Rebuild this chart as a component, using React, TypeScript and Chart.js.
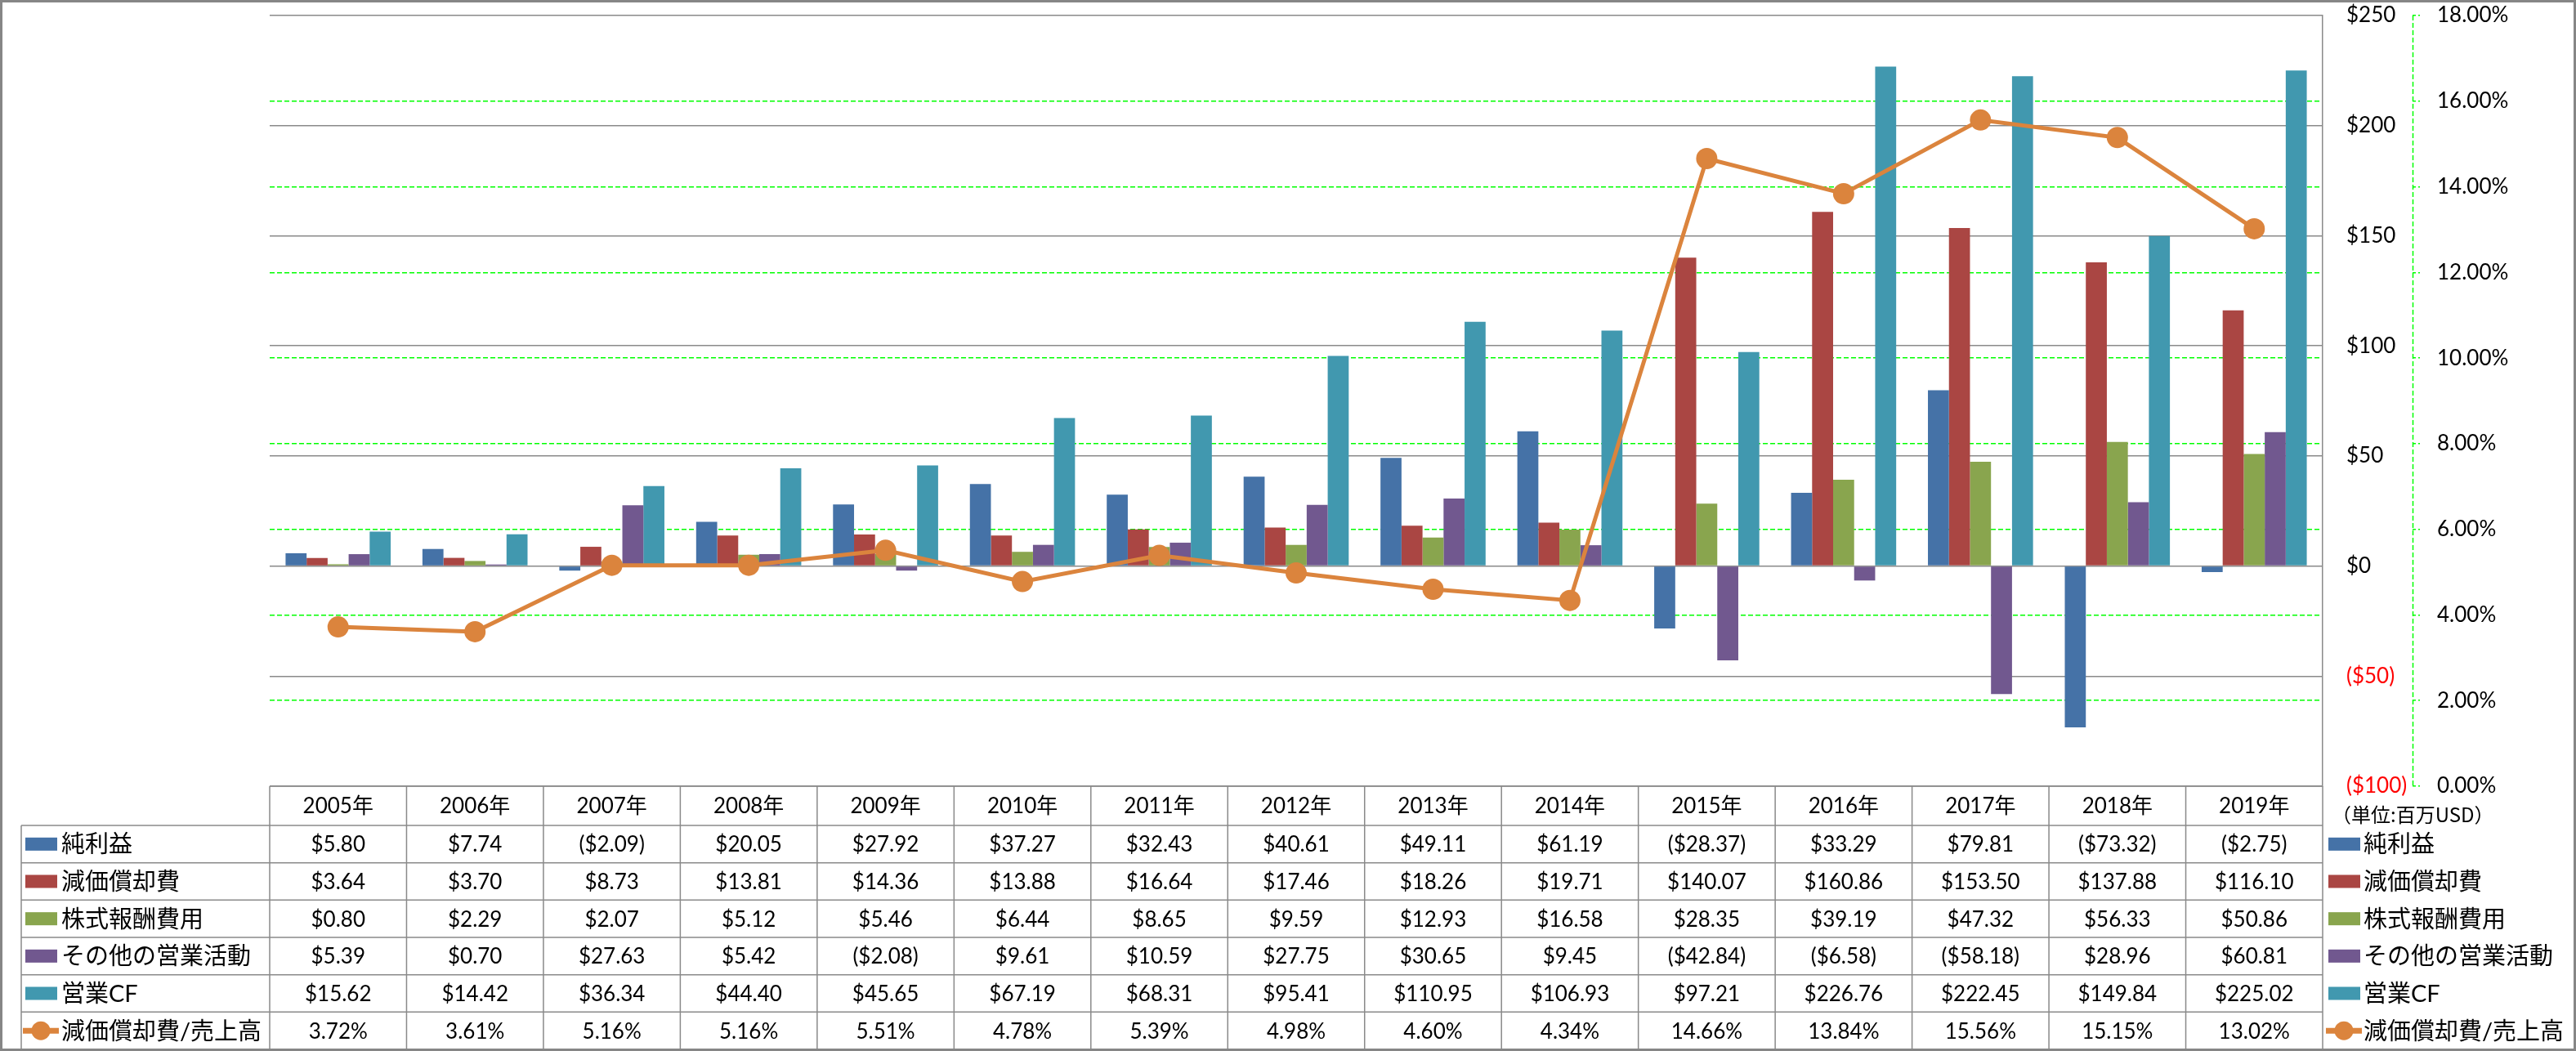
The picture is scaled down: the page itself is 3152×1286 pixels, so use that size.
import React, { useEffect, useRef } from "react";
import { Chart, registerables } from "chart.js";

Chart.register(...registerables);

// ---------- data ----------
const years = [2005, 2006, 2007, 2008, 2009, 2010, 2011, 2012, 2013, 2014, 2015, 2016, 2017, 2018, 2019];
const yearLabels = years.map((y) => `${y}年`);

const netIncome = [5.8, 7.74, -2.09, 20.05, 27.92, 37.27, 32.43, 40.61, 49.11, 61.19, -28.37, 33.29, 79.81, -73.32, -2.75];
const depreciation = [3.64, 3.7, 8.73, 13.81, 14.36, 13.88, 16.64, 17.46, 18.26, 19.71, 140.07, 160.86, 153.5, 137.88, 116.1];
const stockComp = [0.8, 2.29, 2.07, 5.12, 5.46, 6.44, 8.65, 9.59, 12.93, 16.58, 28.35, 39.19, 47.32, 56.33, 50.86];
const otherOps = [5.39, 0.7, 27.63, 5.42, -2.08, 9.61, 10.59, 27.75, 30.65, 9.45, -42.84, -6.58, -58.18, 28.96, 60.81];
const operatingCF = [15.62, 14.42, 36.34, 44.4, 45.65, 67.19, 68.31, 95.41, 110.95, 106.93, 97.21, 226.76, 222.45, 149.84, 225.02];
const depToSales = [3.72, 3.61, 5.16, 5.16, 5.51, 4.78, 5.39, 4.98, 4.6, 4.34, 14.66, 13.84, 15.56, 15.15, 13.02];

const barNames = ["純利益", "減価償却費", "株式報酬費用", "その他の営業活動", "営業CF"];
const lineName = "減価償却費/売上高";
const barSeries = [netIncome, depreciation, stockComp, otherOps, operatingCF];

const dollarMin = -100;
const dollarMax = 250;
const dollarStep = 50;
const pctMin = 0;
const pctMax = 18;
const pctStep = 2;
const unitLabel = "（単位:百万USD）";

// ---------- styles ----------
const barColors = ["#4572A7", "#AA4643", "#89A54E", "#71588F", "#4198AF"];
const lineColor = "#DB843D";
const gridGray = "#8a8a8a";
const gridGreen = "#00ff00";
const FONT = "Lato, 'Noto Sans CJK JP', sans-serif";
const CJK = "'Noto Sans CJK JP', sans-serif";

const fmtDollar = (v: number) => (v < 0 ? `($${Math.abs(v).toFixed(2)})` : `$${v.toFixed(2)}`);
const fmtPct = (v: number) => `${v.toFixed(2)}%`;

const tablePlugin = {
  id: "dataTable",
  beforeDatasetsDraw(chart: any) {
    const { ctx, chartArea, scales } = chart;
    const y1 = scales.y1;
    ctx.save();
    ctx.strokeStyle = gridGreen;
    ctx.lineWidth = 1.5;
    ctx.setLineDash([6, 3]);
    ctx.beginPath();
    ctx.moveTo(Math.round(y1.left) + 0.5, chartArea.top);
    ctx.lineTo(Math.round(y1.left) + 0.5, chartArea.bottom);
    ctx.stroke();
    ctx.restore();
  },
  afterDraw(chart: any) {
    const { ctx, chartArea, scales } = chart;
    const x = scales.x;
    const n = yearLabels.length;
    const colW = (chartArea.right - chartArea.left) / n;
    const top = chartArea.bottom;
    const headerH = 48;
    const bottom = 1284;
    const nRows = barSeries.length + 1;
    const rowH = (bottom - (top + headerH)) / nRows;
    const tableLeft = 26;

    ctx.save();
    ctx.strokeStyle = gridGray;
    ctx.lineWidth = 1.5;
    ctx.beginPath();
    for (let r = 0; r <= nRows; r++) {
      const yy = top + headerH + r * rowH;
      ctx.moveTo(tableLeft, yy);
      ctx.lineTo(chartArea.right, yy);
    }
    ctx.moveTo(chartArea.left, top);
    ctx.lineTo(chartArea.right, top);
    for (let i = 0; i < n; i++) {
      const cx = x.getPixelForValue(i);
      ctx.moveTo(cx - colW / 2, top);
      ctx.lineTo(cx - colW / 2, bottom);
    }
    ctx.moveTo(chartArea.right, top);
    ctx.lineTo(chartArea.right, bottom);
    ctx.moveTo(tableLeft, top + headerH);
    ctx.lineTo(tableLeft, bottom);
    ctx.stroke();

    // header
    ctx.fillStyle = "#000";
    ctx.textAlign = "center";
    ctx.textBaseline = "middle";
    ctx.font = `26px ${FONT}`;
    for (let i = 0; i < n; i++) {
      ctx.fillText(yearLabels[i], x.getPixelForValue(i), top + headerH / 2 + 1);
    }
    // cells
    const allRows: string[][] = [...barSeries.map((s) => s.map(fmtDollar)), depToSales.map(fmtPct)];
    allRows.forEach((row, r) => {
      const cy = top + headerH + r * rowH + rowH / 2 + 1;
      row.forEach((txt, i) => {
        ctx.fillText(txt, x.getPixelForValue(i), cy);
      });
    });

    // legends
    const names = [...barNames, lineName];
    const drawKey = (kx: number, cy: number, idx: number) => {
      if (idx < barColors.length) {
        ctx.fillStyle = barColors[idx];
        ctx.fillRect(kx, cy - 8, 39, 16);
      } else {
        ctx.strokeStyle = lineColor;
        ctx.lineWidth = 7;
        ctx.beginPath();
        ctx.moveTo(kx - 3, cy);
        ctx.lineTo(kx + 41, cy);
        ctx.stroke();
        ctx.fillStyle = lineColor;
        ctx.beginPath();
        ctx.arc(kx + 19, cy, 11.5, 0, Math.PI * 2);
        ctx.fill();
      }
    };
    ctx.textAlign = "left";
    ctx.font = `29px ${FONT}`;
    names.forEach((name, r) => {
      const cy = top + headerH + r * rowH + rowH / 2;
      drawKey(31, cy, r);
      drawKey(2849, cy, r);
      ctx.fillStyle = "#000";
      ctx.fillText(name, 75, cy + 1);
      ctx.fillText(name, 2892, cy + 1);
    });

    // unit label
    ctx.font = `24px ${CJK}`;
    ctx.fillStyle = "#000";
    ctx.textAlign = "left";
    ctx.fillText(unitLabel, 2853, top + 35);

    // outer border
    ctx.strokeStyle = "#868686";
    ctx.lineWidth = 3;
    ctx.strokeRect(1.5, 1.5, chart.width - 3, chart.height - 3);
    ctx.restore();
  },
};

export default function App() {
  const canvasRef = useRef<HTMLCanvasElement | null>(null);

  useEffect(() => {
    document.body.style.margin = "0";
    const canvas = canvasRef.current;
    if (!canvas) return;

    const barDatasets = barSeries.map((s, i) => ({
      type: "bar" as const,
      label: barNames[i],
      data: s,
      backgroundColor: barColors[i],
      borderWidth: 0,
      yAxisID: "y",
      order: 1,
      categoryPercentage: 0.768,
      barPercentage: 1.0,
    }));

    const chart = new Chart(canvas, {
      type: "bar",
      data: {
        labels: yearLabels,
        datasets: [
          ...barDatasets,
          {
            type: "line" as const,
            label: lineName,
            data: depToSales,
            borderColor: lineColor,
            backgroundColor: lineColor,
            borderWidth: 5,
            pointRadius: 13,
            pointBackgroundColor: lineColor,
            pointBorderWidth: 0,
            yAxisID: "y1",
            order: 0,
            tension: 0,
          } as any,
        ],
      },
      options: {
        animation: false,
        responsive: false,
        devicePixelRatio: 1,
        layout: { padding: { left: 330, top: 19, right: 0, bottom: 324 } },
        plugins: {
          legend: { display: false },
          tooltip: { enabled: false },
        },
        scales: {
          x: {
            display: false,
            grid: { display: false },
          },
          y: {
            position: "right",
            weight: 1,
            min: dollarMin,
            max: dollarMax,
            ticks: {
              stepSize: dollarStep,
              padding: 29,
              font: { family: FONT, size: 26 },
              color: (c: any) => (c.tick && c.tick.value < 0 ? "#ff0000" : "#000000"),
              callback: (v: any) => (v < 0 ? `($${-v})` : `$${v}`),
            },
            grid: {
              color: gridGray,
              lineWidth: 1.5,
              drawTicks: false,
            },
            border: { display: true, color: gridGray, width: 1.5 },
            afterFit: (s: any) => {
              s.width = 110;
              s.paddingTop = 0;
              s.paddingBottom = 0;
            },
          },
          y1: {
            position: "right",
            weight: 2,
            min: pctMin,
            max: pctMax,
            ticks: {
              stepSize: pctStep,
              padding: 21,
              font: { family: FONT, size: 26 },
              color: "#000000",
              callback: (v: any) => `${Number(v).toFixed(2)}%`,
            },
            grid: {
              color: (c: any) =>
                c.tick && (c.tick.value === pctMin || c.tick.value === pctMax) ? "rgba(0,0,0,0)" : gridGreen,
              tickColor: gridGreen,
              lineWidth: 1.5,
              drawTicks: true,
              tickLength: 9,
              tickBorderDash: [4, 3],
            },
            border: { display: false, dash: [6, 3] },
            afterFit: (s: any) => {
              s.width = 200;
              s.paddingTop = 0;
              s.paddingBottom = 0;
            },
          } as any,
        },
      } as any,
      plugins: [tablePlugin],
    });

    return () => chart.destroy();
  }, []);

  return (
    <div style={{ width: 3152, height: 1286, background: "#ffffff" }}>
      <canvas ref={canvasRef} width={3152} height={1286} style={{ display: "block", width: 3152, height: 1286 }} />
    </div>
  );
}
